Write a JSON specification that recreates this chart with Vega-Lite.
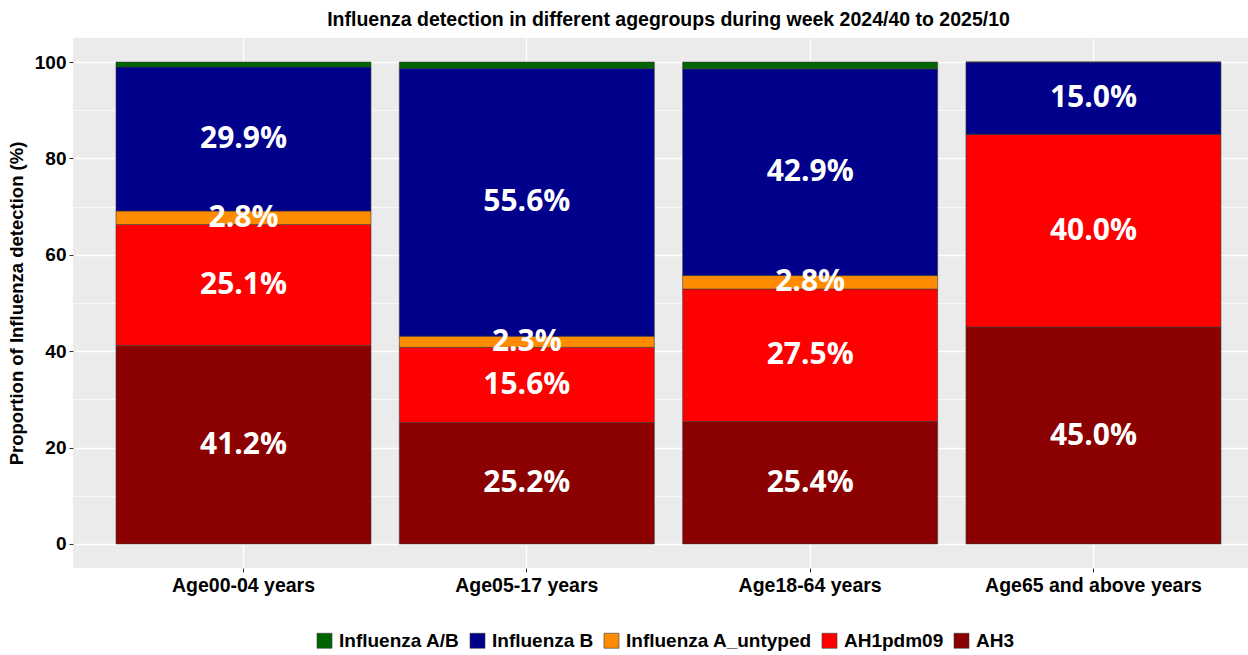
{
  "$schema": "https://vega.github.io/schema/vega-lite/v6.json",
  "autosize": {"type": "none"},
  "width": 1175,
  "height": 530,
  "padding": {"left": 73, "top": 38, "right": 0, "bottom": 87},
  "background": "white",
  "title": {
    "text": "Influenza detection in different agegroups during week 2024/40 to 2025/10",
    "font": "Liberation Sans",
    "fontSize": 19.5,
    "fontWeight": "bold",
    "color": "black",
    "anchor": "middle",
    "frame": "group",
    "dx": 8,
    "offset": 8
  },
  "data": {
    "values": [
      {"age": "Age00-04 years", "type": "AH3", "rank": 1, "pct": 41.2, "label": "41.2%"},
      {"age": "Age00-04 years", "type": "AH1pdm09", "rank": 2, "pct": 25.1, "label": "25.1%"},
      {"age": "Age00-04 years", "type": "Influenza A_untyped", "rank": 3, "pct": 2.8, "label": "2.8%"},
      {"age": "Age00-04 years", "type": "Influenza B", "rank": 4, "pct": 29.9, "label": "29.9%"},
      {"age": "Age00-04 years", "type": "Influenza A/B", "rank": 5, "pct": 1.0, "label": ""},
      {"age": "Age05-17 years", "type": "AH3", "rank": 1, "pct": 25.2, "label": "25.2%"},
      {"age": "Age05-17 years", "type": "AH1pdm09", "rank": 2, "pct": 15.6, "label": "15.6%"},
      {"age": "Age05-17 years", "type": "Influenza A_untyped", "rank": 3, "pct": 2.3, "label": "2.3%"},
      {"age": "Age05-17 years", "type": "Influenza B", "rank": 4, "pct": 55.6, "label": "55.6%"},
      {"age": "Age05-17 years", "type": "Influenza A/B", "rank": 5, "pct": 1.3, "label": ""},
      {"age": "Age18-64 years", "type": "AH3", "rank": 1, "pct": 25.4, "label": "25.4%"},
      {"age": "Age18-64 years", "type": "AH1pdm09", "rank": 2, "pct": 27.5, "label": "27.5%"},
      {"age": "Age18-64 years", "type": "Influenza A_untyped", "rank": 3, "pct": 2.8, "label": "2.8%"},
      {"age": "Age18-64 years", "type": "Influenza B", "rank": 4, "pct": 42.9, "label": "42.9%"},
      {"age": "Age18-64 years", "type": "Influenza A/B", "rank": 5, "pct": 1.4, "label": ""},
      {"age": "Age65 and above years", "type": "AH3", "rank": 1, "pct": 45.0, "label": "45.0%"},
      {"age": "Age65 and above years", "type": "AH1pdm09", "rank": 2, "pct": 40.0, "label": "40.0%"},
      {"age": "Age65 and above years", "type": "Influenza A_untyped", "rank": 3, "pct": 0, "label": ""},
      {"age": "Age65 and above years", "type": "Influenza B", "rank": 4, "pct": 15.0, "label": "15.0%"},
      {"age": "Age65 and above years", "type": "Influenza A/B", "rank": 5, "pct": 0, "label": ""}
    ]
  },
  "encoding": {
    "x": {
      "field": "age",
      "type": "nominal",
      "sort": null,
      "scale": {"paddingInner": 0.1, "paddingOuter": 0.1236, "align": 0.614},
      "axis": {
        "title": null,
        "labelAngle": 0,
        "grid": true,
        "bandPosition": 0.5,
        "labelPadding": 4,
        "labelLimit": 0,
        "labelFontSize": 19.5
      }
    },
    "order": {"field": "rank", "type": "quantitative", "sort": "ascending"}
  },
  "layer": [
    {
      "mark": {"type": "bar", "stroke": "#3a3a3a", "strokeWidth": 0.6},
      "encoding": {
        "y": {
          "field": "pct",
          "type": "quantitative",
          "stack": "zero",
          "scale": {"domain": [-5, 105], "nice": false, "zero": false},
          "axis": {
            "title": "Proportion of Influenza detection (%)",
            "values": [0, 10, 20, 30, 40, 50, 60, 70, 80, 90, 100],
            "labelExpr": "datum.value % 20 == 0 ? datum.label : ''",
            "gridWidth": {"condition": {"test": "datum.value % 20 != 0", "value": 0.7}, "value": 1.4},
            "tickColor": {"condition": {"test": "datum.value % 20 != 0", "value": "transparent"}, "value": "#333333"},
            "titlePadding": 8
          }
        },
        "color": {
          "field": "type",
          "type": "nominal",
          "scale": {
            "domain": ["Influenza A/B", "Influenza B", "Influenza A_untyped", "AH1pdm09", "AH3"],
            "range": ["#006400", "#00008B", "#FF8C00", "#FF0000", "#8B0000"]
          },
          "legend": {
            "title": null,
            "orient": "none",
            "direction": "horizontal",
            "legendX": 242,
            "legendY": 593,
            "symbolType": "square",
            "symbolSize": 225,
            "symbolStrokeColor": "#3a3a3a",
            "symbolStrokeWidth": 0.6,
            "labelFont": "Liberation Sans",
            "labelFontSize": 19,
            "labelFontWeight": "bold",
            "labelColor": "black",
            "labelLimit": 0,
            "labelOffset": 5,
            "columnPadding": 8
          }
        }
      }
    },
    {
      "mark": {
        "type": "text",
        "color": "white",
        "font": "Open Sans",
        "fontWeight": "bold",
        "fontSize": 30,
        "baseline": "middle",
        "align": "center"
      },
      "encoding": {
        "y": {
          "field": "pct",
          "type": "quantitative",
          "stack": "zero",
          "bandPosition": 0.5
        },
        "text": {"field": "label", "type": "nominal"}
      }
    }
  ],
  "config": {
    "view": {"fill": "#EBEBEB", "stroke": null},
    "axis": {
      "domain": false,
      "grid": true,
      "gridColor": "white",
      "gridWidth": 1.4,
      "tickColor": "#333333",
      "tickSize": 4,
      "labelFont": "Liberation Sans",
      "labelFontSize": 19,
      "labelFontWeight": "bold",
      "labelColor": "black",
      "labelPadding": 3,
      "titleFont": "Liberation Sans",
      "titleFontSize": 18.5,
      "titleFontWeight": "bold",
      "titleColor": "black"
    }
  }
}
